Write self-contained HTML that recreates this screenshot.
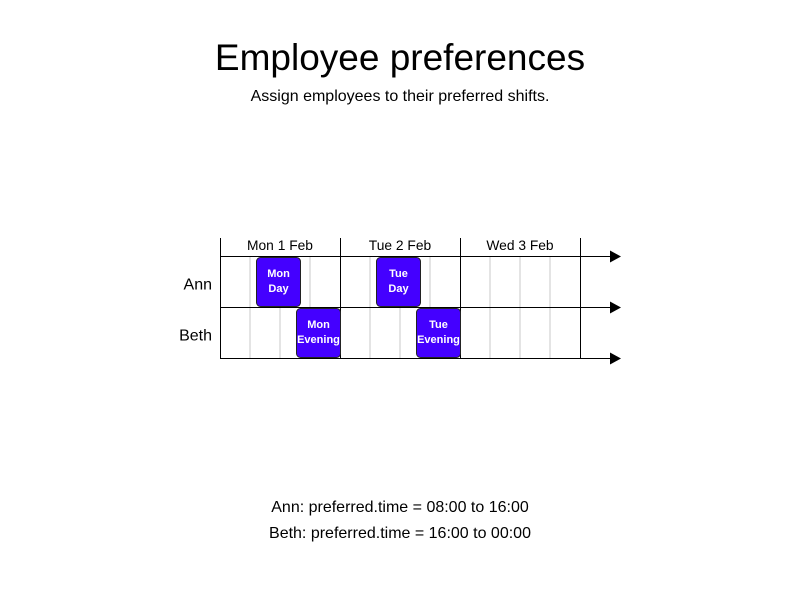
<!DOCTYPE html>
<html><head><meta charset="utf-8"><style>
body{margin:0;background:#fff;font-family:"Liberation Sans",sans-serif}
#wrap{position:relative;width:800px;height:600px}
</style></head><body>
<div id="wrap">
<svg id="svg" width="800" height="600" xmlns="http://www.w3.org/2000/svg">
<text x="400" y="70" text-anchor="middle" font-size="37" font-family="Liberation Sans, sans-serif">Employee preferences</text>
<text x="400" y="101" text-anchor="middle" font-size="16" font-family="Liberation Sans, sans-serif">Assign employees to their preferred shifts.</text>
<text x="400" y="512" text-anchor="middle" font-size="16" font-family="Liberation Sans, sans-serif">Ann: preferred.time = 08:00 to 16:00</text>
<text x="400" y="538" text-anchor="middle" font-size="16" font-family="Liberation Sans, sans-serif">Beth: preferred.time = 16:00 to 00:00</text>
</svg>
</div>
<script>
const days = ["Mon 1 Feb","Tue 2 Feb","Wed 3 Feb"];
const employees = ["Ann","Beth"];
const shiftEmployee = ["Ann","Ann","Beth","Beth"];
const shiftLabel1 = ["Mon","Tue","Mon","Tue"];
const shiftLabel2 = ["Day","Day","Evening","Evening"];
const shiftStartHour = [8,32,16,40];
const shiftEndHour = [16,40,24,48];

const NS="http://www.w3.org/2000/svg";
const svg=document.getElementById('svg');
const X0=220, DAYW=120, TOP=238, HEAD=256, ROWH=51;
const x=h=>X0+h*DAYW/24;
const rowY=i=>HEAD+i*ROWH;
const endY=rowY(employees.length);
function mk(t,a){const e=document.createElementNS(NS,t);for(const k in a)e.setAttribute(k,a[k]);svg.appendChild(e);return e;}
for(let h=6;h<days.length*24;h+=6){
  if(h%24===0)continue;
  const l=mk('line',{x1:x(h),x2:x(h),y1:HEAD,y2:endY,stroke:'#c8c8c8','stroke-width':1});
  
  
}
for(let d=0;d<=days.length;d++){
  const l=mk('line',{x1:x(d*24)+0.5,x2:x(d*24)+0.5,y1:TOP,y2:endY,stroke:'#000','stroke-width':1});
  
  
}
days.forEach((d,i)=>{
  const t=mk('text',{x:x(i*24+12),y:250,'text-anchor':'middle','font-size':13.8,'font-family':'Liberation Sans, sans-serif'});
  t.textContent=d;
  
  
});
for(let i=0;i<=employees.length;i++){
  const y=rowY(i)+0.5;
  const l=mk('line',{x1:X0,x2:612,y1:y,y2:y,stroke:'#000','stroke-width':1});
  
  
  const p=mk('polygon',{points:`610,${y-6} 621,${y} 610,${y+6}`,fill:'#000'});
  
  
}
employees.forEach((e,i)=>{
  const t=mk('text',{x:212,y:rowY(i)+ROWH/2+8,'text-anchor':'end','font-size':16,'font-family':'Liberation Sans, sans-serif'});
  t.textContent=e;
  
  
});
shiftEmployee.forEach((e,i)=>{
  const r=employees.indexOf(e);
  const x1=x(shiftStartHour[i])-4, x2=x(shiftEndHour[i])+1;
  const y1=rowY(r)+1;
  const rect=mk('rect',{x:x1+0.5,y:y1+0.5,width:x2-x1-1,height:ROWH-2,rx:4,fill:'#4400ff',stroke:'#222','stroke-width':1});
  
  
  const cx=(x1+x2)/2;
  [shiftLabel1[i],shiftLabel2[i]].forEach((s,k)=>{
    const t=mk('text',{x:cx,y:y1+20+k*15,'text-anchor':'middle','font-size':11,'font-weight':'bold',fill:'#fff','font-family':'Liberation Sans, sans-serif'});
    t.textContent=s;
    
    
  });
});
</script>
</body></html>
